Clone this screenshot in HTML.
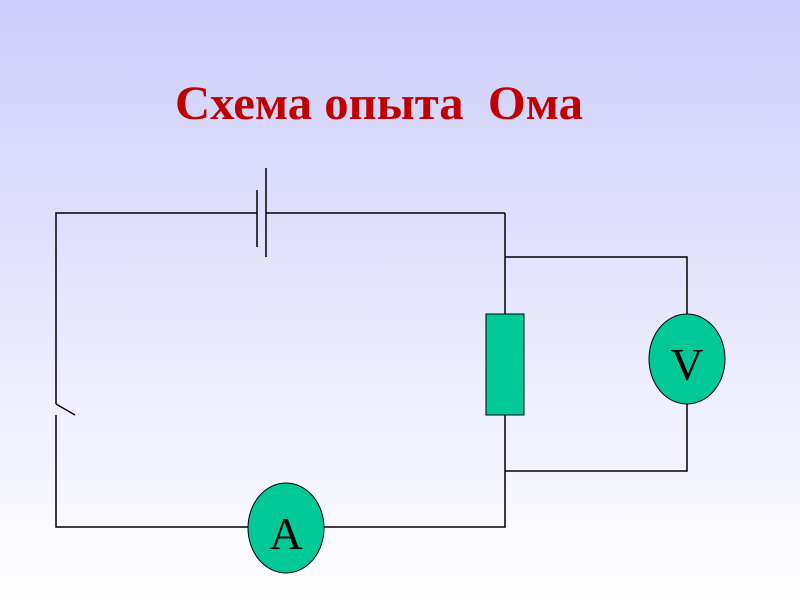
<!DOCTYPE html>
<html><head><meta charset="utf-8"><style>
body{margin:0;width:800px;height:600px;overflow:hidden;background:linear-gradient(#cdcdfa,#ffffff);}
</style></head><body>
<svg width="800" height="600" xmlns="http://www.w3.org/2000/svg" style="position:absolute;left:0;top:0">
<text x="175" y="119" font-family="Liberation Serif, serif" font-weight="bold" font-size="48" fill="#c00000" textLength="408" lengthAdjust="spacingAndGlyphs" xml:space="preserve">Схема опыта  Ома</text>
<g stroke="#000" stroke-width="1.5" fill="none">
<polyline points="257,213 56,213 56,404"/>
<line x1="266" y1="213" x2="505" y2="213"/>
<line x1="257" y1="190" x2="257" y2="247"/>
<line x1="266" y1="168" x2="266" y2="257"/>
<line x1="56" y1="404" x2="75" y2="415"/>
<polyline points="56,415 56,527 505,527 505,213"/>
<polyline points="505,257 687,257 687,471 505,471"/>
</g>
<rect x="486" y="314" width="38" height="101" fill="#00c896" stroke="#000" stroke-width="1"/>
<ellipse cx="687" cy="359" rx="38" ry="45" fill="#00c896" stroke="#000" stroke-width="1"/>
<ellipse cx="286" cy="528" rx="38" ry="45" fill="#00c896" stroke="#000" stroke-width="1"/>
<text x="687" y="380" text-anchor="middle" font-family="Liberation Serif, serif" font-size="46" fill="#000">V</text>
<text x="286" y="549" text-anchor="middle" font-family="Liberation Serif, serif" font-size="46" fill="#000">A</text>
</svg>
</body></html>
